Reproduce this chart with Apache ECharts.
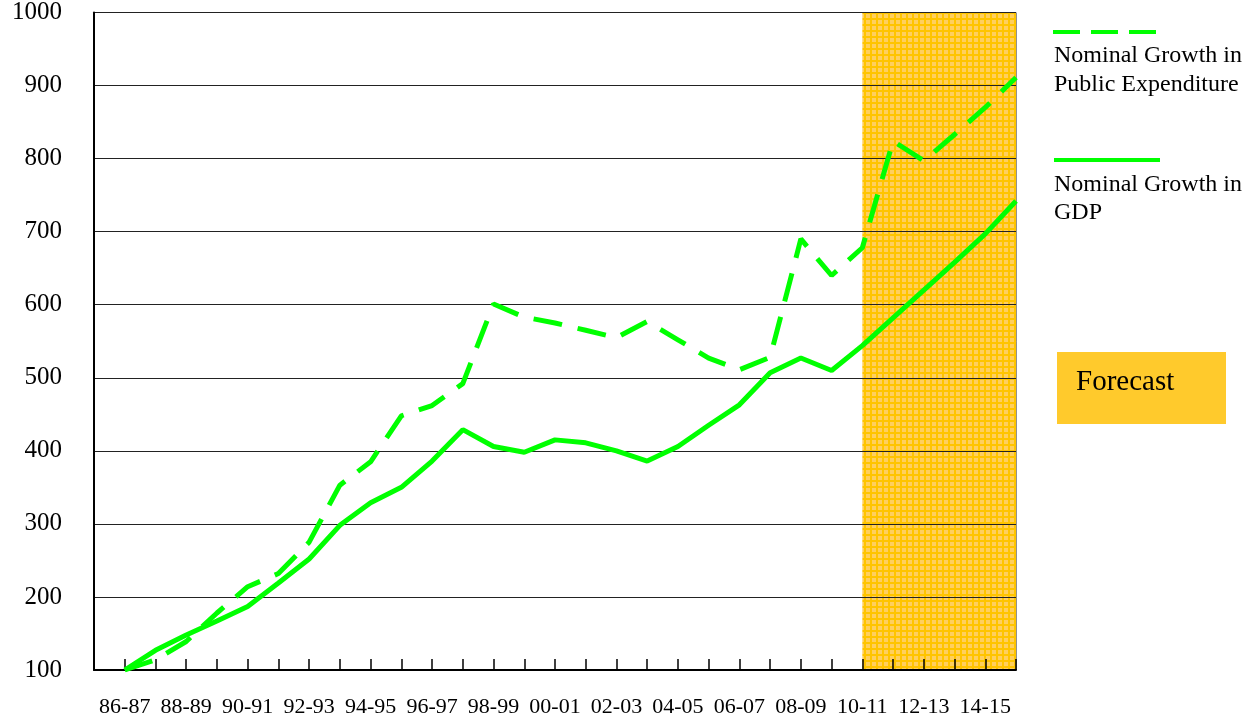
<!DOCTYPE html>
<html>
<head>
<meta charset="utf-8">
<script src="https://cdn.jsdelivr.net/npm/echarts@6/dist/echarts.min.js"></script>
<style>
html,body{margin:0;padding:0;background:#fff;}
#chart{width:1257px;height:720px;}
</style>
</head>
<body>
<div id="chart"></div>
<script>
// Categories (first one is the empty slot at the axis origin)
var years = ['85-86','86-87','87-88','88-89','89-90','90-91','91-92','92-93','93-94','94-95','95-96',
  '96-97','97-98','98-99','99-00','00-01','01-02','02-03','03-04','04-05','05-06',
  '06-07','07-08','08-09','09-10','10-11','11-12','12-13','13-14','14-15','15-16'];

var publicExpenditure = [null, 100, 114, 139, 178, 214, 232, 275, 353, 385, 448,
  462, 492, 601, 583, 575, 565, 555, 577, 552, 527,
  511, 528, 690, 640, 678, 824, 797, 833, 870, 911];

var gdp = [null, 100, 127, 148, 167, 187, 219, 252, 298, 329, 350,
  386, 429, 406, 398, 415, 411, 400, 386, 406, 435,
  463, 507, 527, 510, 544, 582, 620, 658, 697, 742];

var forecastStart = '10-11';
var forecastEnd = '15-16';

var yTicks = {min: 100, max: 1000, step: 100};

var seriesNames = ['Nominal Growth in Public Expenditure', 'Nominal Growth in GDP'];

// hatched forecast pattern
var pc = document.createElement('canvas');
pc.width = 6; pc.height = 6;
var pctx = pc.getContext('2d');
pctx.fillStyle = '#ffc400';
pctx.fillRect(0, 0, 6, 6);
pctx.fillStyle = '#ffcf5e';
pctx.fillRect(2, 2, 4, 4);

var font = '"Liberation Serif", "Times New Roman", serif';
var green = '#00ff00';

var chart = echarts.init(document.getElementById('chart'), null, {renderer: 'canvas'});
chart.setOption({
  animation: false,
  backgroundColor: '#ffffff',
  grid: {left: 94, right: 241, top: 11, bottom: 50, show: true, borderColor: '#222', borderWidth: 1, backgroundColor: 'transparent'},
  xAxis: {
    type: 'category',
    data: years,
    boundaryGap: false,
    z: 3,
    axisLine: {lineStyle: {color: '#000', width: 2}},
    axisTick: {show: true, inside: true, length: 11, interval: 0, lineStyle: {color: '#000', width: 1.5}},
    axisLabel: {
      interval: function (i) { return i % 2 === 1; },
      margin: 26,
      color: '#000',
      fontFamily: font,
      fontSize: 22
    },
    splitLine: {show: false}
  },
  yAxis: {
    type: 'value',
    min: yTicks.min,
    max: yTicks.max,
    interval: yTicks.step,
    z: 3,
    axisLine: {show: true, lineStyle: {color: '#000', width: 2}},
    axisTick: {show: false},
    axisLabel: {margin: 32, color: '#000', fontFamily: font, fontSize: 25, padding: [7, 0, 0, 0],
      formatter: function (v) { return String(v); }},
    splitLine: {show: true, lineStyle: {color: '#222', width: 1}}
  },
  series: [
    {
      name: seriesNames[1],
      type: 'line',
      data: gdp,
      z: 5,
      symbol: 'none',
      lineStyle: {color: green, width: 5},
      markArea: {
        silent: true,
        z: 1,
        itemStyle: {color: {image: pc, repeat: 'repeat'}, borderWidth: 0},
        data: [[{xAxis: forecastStart}, {xAxis: forecastEnd}]]
      }
    },
    {
      name: seriesNames[0],
      type: 'line',
      data: publicExpenditure,
      z: 5,
      symbol: 'none',
      lineStyle: {color: green, width: 5, type: [29, 16], cap: 'butt'}
    }
  ],
  graphic: [
    {type: 'line', shape: {x1: 1053, y1: 32, x2: 1158, y2: 32}, style: {stroke: green, lineWidth: 4, lineDash: [27, 11]}},
    {type: 'text', left: 1054, top: 44, style: {text: 'Nominal Growth in', font: '24px ' + font, fill: '#000'}},
    {type: 'text', left: 1054, top: 73, style: {text: 'Public Expenditure', font: '24px ' + font, fill: '#000'}},
    {type: 'line', shape: {x1: 1054, y1: 160, x2: 1160, y2: 160}, style: {stroke: green, lineWidth: 4}},
    {type: 'text', left: 1054, top: 173, style: {text: 'Nominal Growth in', font: '24px ' + font, fill: '#000'}},
    {type: 'text', left: 1054, top: 201, style: {text: 'GDP', font: '24px ' + font, fill: '#000'}},
    {type: 'rect', shape: {x: 1057, y: 352, width: 169, height: 72}, style: {fill: '#ffca2c'}},
    {type: 'text', left: 1076, top: 368, style: {text: 'Forecast', font: '29px ' + font, fill: '#000'}}
  ]
});
</script>
</body>
</html>
